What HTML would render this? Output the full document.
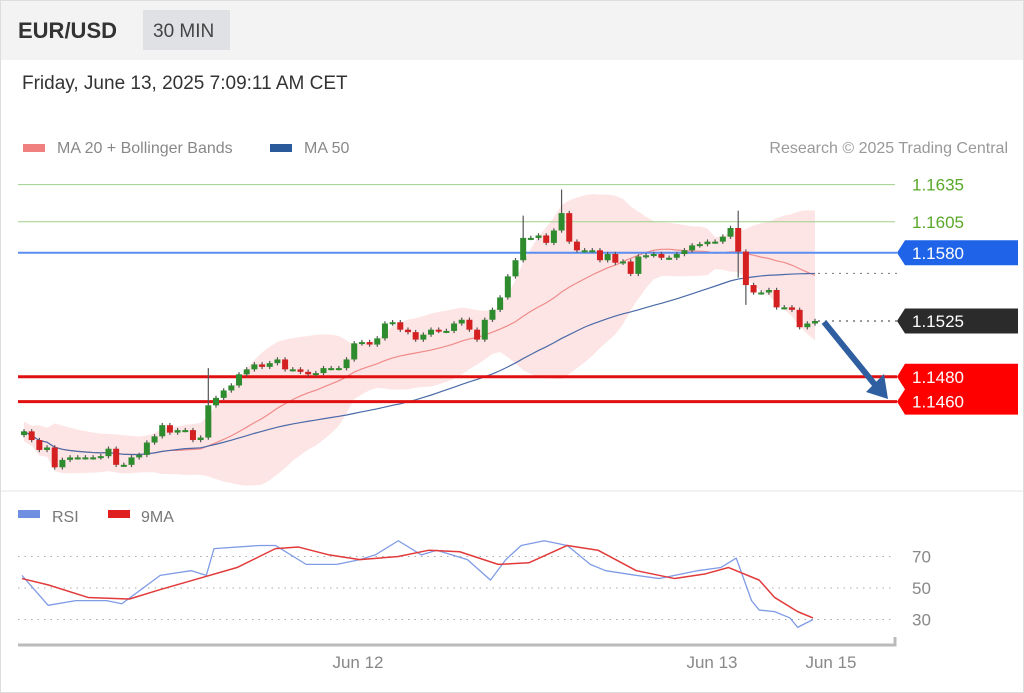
<!DOCTYPE html>
<html><head><meta charset="utf-8"><style>
body{margin:0;width:1024px;height:693px;overflow:hidden;background:#fff;font-family:"Liberation Sans",sans-serif}
svg{position:absolute;left:0;top:0}
</style></head><body>
<svg id="c" width="1024" height="693">
<rect x="0" y="0" width="1024" height="60" fill="#f3f3f3"/>
<text x="18" y="38" font-size="22" font-weight="bold" fill="#333">EUR/USD</text>
<rect x="143" y="10" width="87" height="40" fill="#dfe1e5"/>
<text x="153" y="37" font-size="19" fill="#444">30 MIN</text>
<text x="22" y="89" font-size="19" fill="#333">Friday, June 13, 2025 7:09:11 AM CET</text>
<rect x="23" y="144" width="22" height="8" fill="#f08080"/>
<text x="57" y="153" font-size="16" fill="#888">MA 20 + Bollinger Bands</text>
<rect x="270" y="144" width="22" height="8" fill="#2a5a9a"/>
<text x="304" y="153" font-size="16" fill="#888">MA 50</text>
<text x="1008" y="153" font-size="16" fill="#999" text-anchor="end">Research © 2025 Trading Central</text>
<line x1="0" y1="491" x2="1024" y2="491" stroke="#e6e6e6"/>
<g id="main"></g><g id="rsi"></g>
<rect x="18" y="510" width="22" height="8" fill="#6f8fe0"/>
<text x="52" y="522" font-size="16" fill="#777">RSI</text>
<rect x="108" y="510" width="22" height="8" fill="#e02020"/>
<text x="141" y="522" font-size="16" fill="#777">9MA</text>
<path d="M18 645 H895 V637" stroke="#bbb" stroke-width="3" fill="none"/>
<text x="358" y="668" font-size="17" fill="#888" text-anchor="middle">Jun 12</text>
<text x="712" y="668" font-size="17" fill="#888" text-anchor="middle">Jun 13</text>
<text x="831" y="668" font-size="17" fill="#888" text-anchor="middle">Jun 15</text>
<rect x="0.5" y="0.5" width="1023" height="692" fill="none" stroke="#ddd"/>
</svg>
<script>
const closes=[1.1436,1.1429,1.1421,1.1423,1.1407,1.1413,1.1415,1.1415,1.1415,1.1415,1.1416,1.1422,1.1409,1.1409,1.1415,1.1417,1.1427,1.1432,1.1441,1.1435,1.1437,1.1437,1.1429,1.1431,1.1457,1.1463,1.1469,1.1473,1.1482,1.1486,1.1490,1.1488,1.1491,1.1494,1.1486,1.1486,1.1484,1.1482,1.1483,1.1487,1.1487,1.1487,1.1494,1.1507,1.1508,1.1506,1.1511,1.1523,1.1524,1.1518,1.1516,1.1510,1.1514,1.1518,1.1517,1.1517,1.1523,1.1526,1.1518,
1.1510,1.1526,1.1534,1.1544,1.1561,1.1574,1.1592,1.1592,1.1594,1.1588,1.1598,1.1612,1.1589,1.1582,1.1582,1.1582,1.1574,1.1579,1.1572,1.1573,1.1563,1.1577,1.1578,1.1579,1.1576,1.1576,1.1579,1.1582,1.1586,1.1587,1.1589,1.1589,1.1593,1.1600,1.1581,1.1554,1.1548,1.1548,1.1550,1.1536,1.1536,1.1534,1.1520,1.1523,1.1525];
const firstOpen=1.1433;
const spikes=[[24,1.1487,null],[65,1.1610,null],[70,1.1631,null],[93,1.1614,1.1560],[94,null,1.1538]];
const levels=[1.1635,1.1605,1.1580,1.1525,1.1480,1.1460];
const levelLabels=["1.1635","1.1605","1.1580","1.1525","1.1480","1.1460"];
const rsiTicks=[70,50,30];
const rsiIdx=[0,3.4,7,11,13,18,22,24,25,31,33,37,41,44,46,49,52,54,58,61,63,65,68,71,74,76,80,83,85,88,91,93,95,96,98,100,101,103];
const rsiVals=[58,39,42,42,40,58,61,58,75,77,77,65,65,68,71,80,71,74,68,55,68,77,80,77,65,61,58,56,58,61,63,69,42,36,35,31,25,30];
const maIdx=[0,3.4,8.6,14,18,23,28,33,36,40,44,49,53,57,62,66,71,75,80,85,89,92,96,98,101,103];
const maVals=[56,52,44,43,49,56,63,75,76,71,68,70,74,73,65,66,77,74,61,56,59,63,55,44,35,31];
const NS="http://www.w3.org/2000/svg";
function mk(p,t,a){const e=document.createElementNS(NS,t);for(const k in a)e.setAttribute(k,a[k]);p.appendChild(e);return e;}
const X0=24,X1=815;
const xs=i=>X0+(X1-X0)*i/(closes.length-1);
const ys=p=>321-(p-1.1525)*12400;
const yr=v=>588-(v-50)*1.575;
const g=document.getElementById('main'),gr=document.getElementById('rsi');
const ma=(arr,n)=>arr.map((_,i)=>{const s=arr.slice(Math.max(0,i-n+1),i+1);return s.reduce((a,b)=>a+b,0)/s.length;});
const ma20=ma(closes,20),ma50=ma(closes,50);
const sd=closes.map((_,i)=>{const s=closes.slice(Math.max(0,i-19),i+1);const m=ma20[i];return Math.sqrt(s.reduce((a,b)=>a+(b-m)*(b-m),0)/s.length);});
let up="";
closes.forEach((c,i)=>{const w=Math.max(sd[i]*2,0.0008);up+=(i?"L":"M")+xs(i)+" "+ys(ma20[i]+w);});
for(let i=closes.length-1;i>=0;i--){const w=Math.max(sd[i]*2,0.0008);up+="L"+xs(i)+" "+ys(ma20[i]-w);}
const band=mk(g,'path',{d:up+"Z",fill:"#fde0e0",opacity:"0.85"});


const lp=a=>a.map((v,i)=>(i?"L":"M")+xs(i)+" "+ys(v)).join("");
const m20=mk(g,'path',{d:lp(ma20),stroke:"#f08a8a",fill:"none","stroke-width":1.2});


const m50=mk(g,'path',{d:lp(ma50),stroke:"#4a6aa8",fill:"none","stroke-width":1.2});


const lcol=["#9fd08a","#9fd08a","#5b8ef0",null,"#e01010","#e01010"];
const lw=[1,1,2,0,3,3];
levels.forEach((v,i)=>{
 if(!lcol[i])return;
 const l=mk(g,'line',{x1:18,x2:i<2?895:897,y1:ys(v),y2:ys(v),stroke:lcol[i],"stroke-width":lw[i]});
 
 
});
const dl=mk(g,'line',{x1:818,x2:897,y1:ys(ma50[ma50.length-1]),y2:ys(ma50[ma50.length-1]),stroke:"#777","stroke-dasharray":"2 5"});


const dl2=mk(g,'line',{x1:818,x2:897,y1:ys(levels[3]),y2:ys(levels[3]),stroke:"#333","stroke-dasharray":"2 5"});


closes.forEach((c,i)=>{
 const o=i?closes[i-1]:firstOpen;let hi=Math.max(o,c)+0.00018,lo=Math.min(o,c)-0.00018;
 spikes.forEach(s=>{if(s[0]===i){if(s[1])hi=s[1];if(s[2])lo=s[2];}});
 const x=xs(i),col=c>=o?"#2e8b2e":"#d42020";
 const cg=mk(g,'g',{});
 
 
 mk(cg,'line',{x1:x,x2:x,y1:ys(hi),y2:ys(lo),stroke:"#555","stroke-width":1.2});
 const t=Math.min(ys(o),ys(c)),h=Math.max(Math.abs(ys(o)-ys(c)),2);
 mk(cg,'rect',{x:x-3,y:t,width:6,height:h,fill:col});
});
const ar=mk(g,'g',{});


mk(ar,'line',{x1:824,y1:322,x2:876,y2:386,stroke:"#2f5fa0","stroke-width":6});
mk(ar,'polygon',{points:"866,392 888,399 884,374",fill:"#2f5fa0"});
function tag(v,txt,col,name,h){const y=ys(v);const gg=mk(g,'g',{});
 
 
 if(col)mk(gg,'polygon',{points:`897,${y} 905,${y-h} 1018,${y-h} 1018,${y+h} 905,${y+h}`,fill:col});
 const t=mk(gg,'text',{x:912,y:y+6,"font-size":17,fill:col?"#fff":"#5aa82a"});t.textContent=txt;}
tag(levels[0],levelLabels[0],null,'label-1.1635',12);
tag(levels[1],levelLabels[1],null,'label-1.1605',12);
tag(levels[2],levelLabels[2],"#1f63e8",'label-1.1580',12.5);
tag(levels[3],levelLabels[3],"#2b2b2b",'label-1.1525',12.5);
{const gg=mk(g,'g',{});
 
 
 const a=ys(levels[4]),b=ys(levels[5]);
 mk(gg,'polygon',{points:`897,${a} 905,${a-13} 1018,${a-13} 1018,${b+13} 905,${b+13} 897,${b} 905,${(a+b)/2}`,fill:"#f00"});
 [4,5].forEach(i=>{const t=mk(gg,'text',{x:912,y:ys(levels[i])+6,"font-size":17,fill:"#fff"});t.textContent=levelLabels[i];});}
rsiTicks.forEach(v=>{const l=mk(gr,'line',{x1:18,x2:895,y1:yr(v),y2:yr(v),stroke:"#aaa","stroke-dasharray":"1.5 5"});
 
 
 const t=mk(gr,'text',{x:912,y:yr(v)+6,"font-size":17,fill:"#888"});t.textContent=v;
 
 });
const rl=(ix,a)=>a.map((v,i)=>(i?"L":"M")+(xs(ix[i])-2)+" "+yr(v)).join("");
const r1=mk(gr,'path',{d:rl(rsiIdx,rsiVals),stroke:"#7f9be6",fill:"none","stroke-width":1.3,"stroke-linejoin":"round"});


const r2=mk(gr,'path',{d:rl(maIdx,maVals),stroke:"#e23a3a",fill:"none","stroke-width":1.5,"stroke-linejoin":"round"});


</script>
</body></html>
